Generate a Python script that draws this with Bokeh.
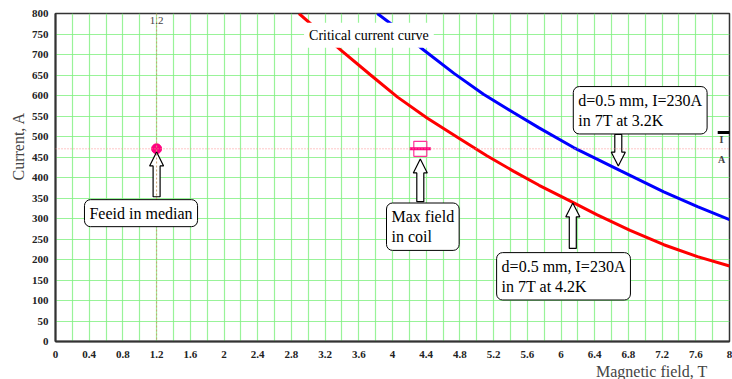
from bokeh.plotting import figure
from bokeh.models import (Label, Range1d, FixedTicker, CustomJSTickFormatter, Span, Title)
from bokeh.embed import file_html
from bokeh.resources import INLINE

# Critical current curves (field in T, current in A)
red_field = [2.89, 3.38, 3.74, 4.06, 4.41, 4.77, 5.12, 5.44, 5.74, 6.03, 6.43, 6.82, 7.22, 7.62, 8.0]
red_current = [800, 712, 650, 596, 545, 498, 453, 415, 381, 351, 309, 271, 236, 207, 184]
blue_field = [3.82, 4.02, 4.37, 4.73, 5.08, 5.44, 5.74, 6.15, 6.71, 7.22, 7.62, 8.0]
blue_current = [800, 769, 711, 654, 603, 558, 521, 473, 416, 365, 329, 297]

# Operating point
median_field = 1.2
max_field = 4.33
op_current = 470
marker_current = 510

x_ticks = [round(0.4 * i, 1) for i in range(21)]
y_ticks = list(range(0, 801, 50))

W, H = 732, 379
LEFT, RIGHT, TOP, BOTTOM = 55, 3, 13, 35
FW, FH = W - LEFT - RIGHT, H - TOP - BOTTOM
SERIF = "'Liberation Serif', 'Times New Roman', serif"

p = figure(width=W, height=H, output_backend="svg", toolbar_location=None,
           x_range=Range1d(0, 8), y_range=Range1d(0, 800),
           min_border_left=LEFT, min_border_right=RIGHT,
           min_border_top=TOP, min_border_bottom=BOTTOM)
p.background_fill_color = "white"
p.border_fill_color = "white"
p.outline_line_color = "#333333"
p.outline_line_width = 1.5

# grid: vertical every 0.2 T, horizontal every 50 A
p.xgrid.ticker = FixedTicker(ticks=[round(0.2 * i, 1) for i in range(41)])
p.ygrid.ticker = FixedTicker(ticks=y_ticks)
for g in (p.xgrid, p.ygrid):
    g.grid_line_color = "#80f080"
    g.grid_line_width = 1.2
    g.grid_line_alpha = 0.8

p.xaxis.ticker = FixedTicker(ticks=x_ticks)
p.xaxis.formatter = CustomJSTickFormatter(code="return String(Math.round(tick*10)/10);")
p.yaxis.ticker = FixedTicker(ticks=y_ticks)
for ax in (p.xaxis, p.yaxis):
    ax.axis_line_color = "#333333"
    ax.axis_line_width = 2
    ax.major_tick_line_color = None
    ax.minor_tick_line_color = None
    ax.major_label_text_font = SERIF
    ax.major_label_text_font_size = "11px"
    ax.major_label_text_font_style = "bold"
    ax.major_label_text_color = "#222222"
    ax.major_label_standoff = 3
p.yaxis.major_label_standoff = 1

# axis titles
p.add_layout(Title(text="Magnetic field, T", align="right", offset=22, standoff=0,
                   text_font=SERIF, text_font_size="16px", text_font_style="normal"),
             "below")
p.add_layout(Title(text="Current, A", align="left", offset=161, standoff=3,
                   text_font=SERIF, text_font_size="16px", text_font_style="normal"),
             "left")

# marker lines through the operating point
p.add_layout(Span(location=op_current, dimension="width", line_color="#ff9090",
                  line_dash="1 2", line_width=1))
p.add_layout(Span(location=median_field, dimension="height", line_color="#c8a070",
                  line_dash="2 2", line_width=1))

p.line(red_field, red_current, line_color="red", line_width=3)
p.line(blue_field, blue_current, line_color="blue", line_width=3)

p.scatter([median_field], [op_current], size=10, color="#ff0080")
p.rect([max_field], [op_current], width=13, height=15, width_units="screen",
       height_units="screen", fill_color=None, line_color="#ff3399", line_width=1.2)
p.rect([max_field], [op_current], width=21, height=3, width_units="screen",
       height_units="screen", fill_color="#ff0080", line_color=None)
p.segment([7.86], [marker_current], [8.03], [marker_current], line_color="black", line_width=3)

# hollow block arrows: (tip field, tip current, tail current)
arrows = [
    (median_field, 462, 353),
    (max_field, 445, 341),
    (6.68, 428, 505),
    (6.14, 338, 227),
]
sx, sy = FW / 8.0, FH / 800.0
xs, ys = [], []
for tx, ty, tail in arrows:
    d = 1 if tail < ty else -1          # +1: arrow points up
    tip_px = ty * sy
    tail_px = tail * sy
    head_px = tip_px - d * 14
    pts = [(0, tip_px), (7, head_px), (3.5, head_px), (3.5, tail_px),
           (-3.5, tail_px), (-3.5, head_px), (-7, head_px)]
    xs.append([tx + dx / sx for dx, _ in pts])
    ys.append([py / sy for _, py in pts])
p.patches(xs, ys, fill_color="white", line_color="black", line_width=1.2)

def box(text, x, y, size="16px"):
    p.add_layout(Label(x=x, y=y, text=text, anchor="center", text_align="left",
                       text_font=SERIF, text_font_size=size, text_color="black",
                       background_fill_color="white", border_line_color="black",
                       border_line_width=1, border_radius=6, padding=5))

box("Feeid in median", 1.015, 313)
box("Max field\n in coil", 4.36, 280)
box("d=0.5 mm, I=230A\nin 7T at 3.2K", 6.94, 564)
box("d=0.5 mm, I=230A\nin 7T at 4.2K", 6.03, 159)

p.add_layout(Label(x=3.72, y=747, text="Critical current curve", anchor="center",
                   text_font=SERIF, text_font_size="14px",
                   text_color="black", background_fill_color="white", padding=5))
p.add_layout(Label(x=median_field, y=783, text="1.2", text_align="center",
                   text_baseline="middle", text_font=SERIF, text_font_size="11px"))
p.add_layout(Label(x=7.905, y=493, text="I", text_align="center",
                   text_baseline="middle", text_font=SERIF, text_font_size="10px",
                   text_font_style="bold"))
p.add_layout(Label(x=7.905, y=445, text="A", text_align="center",
                   text_baseline="middle", text_font=SERIF, text_font_size="10px",
                   text_font_style="bold"))

open("out.html", "w").write(file_html(p, INLINE))
